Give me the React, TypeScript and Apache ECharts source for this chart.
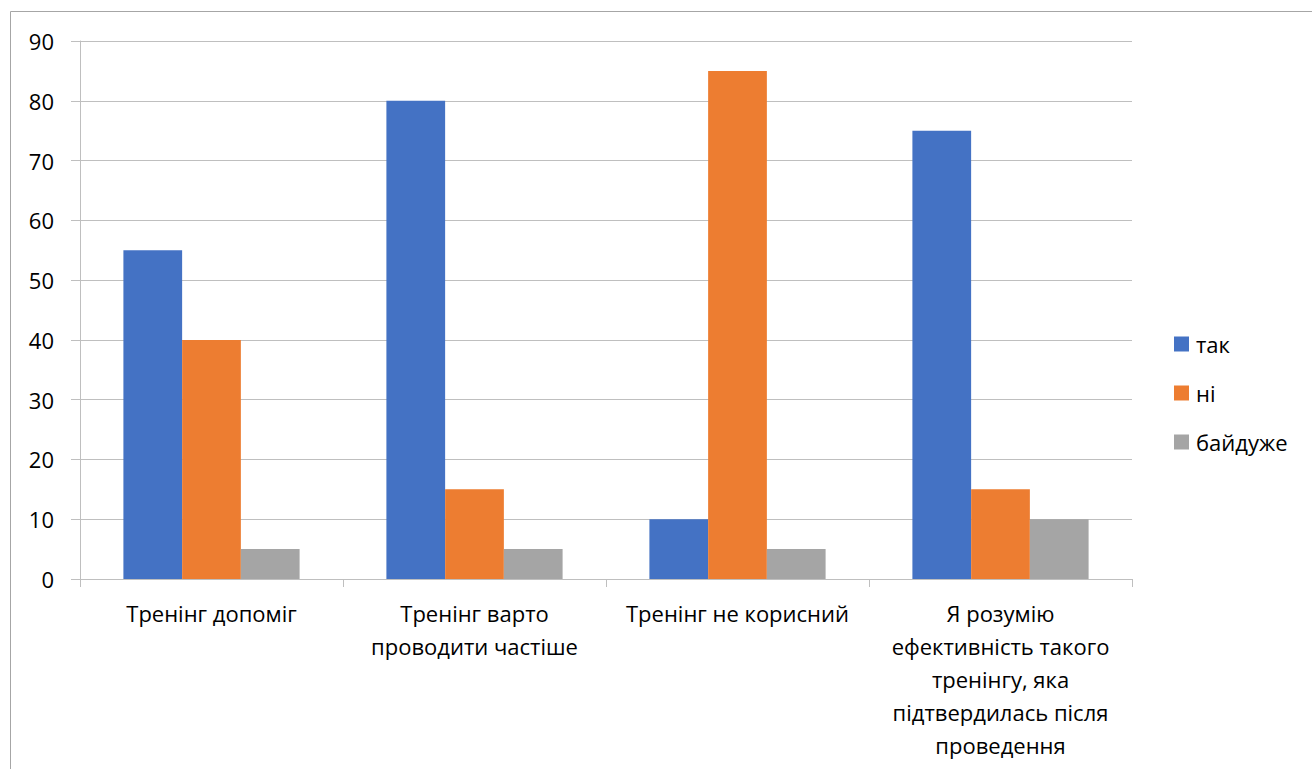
import React, { useEffect, useRef } from "react";
import * as echarts from "echarts";

const categories = [
  "Тренінг допоміг",
  "Тренінг варто\nпроводити частіше",
  "Тренінг не корисний",
  "Я розумію\nефективність такого\nтренінгу, яка\nпідтвердилась після\nпроведення",
];
const seriesNames = ["так", "ні", "байдуже"];
const yesValues = [55, 80, 10, 75];
const noValues = [40, 15, 85, 15];
const indifferentValues = [5, 5, 5, 10];
const colors = ["#4472C4", "#ED7D31", "#A5A5A5"];

const FONT = "'Open Sans', 'Noto Sans', sans-serif";

export default function App() {
  const ref = useRef<HTMLDivElement>(null);
  useEffect(() => {
    if (!ref.current) return;
    const chart = echarts.init(ref.current, undefined, { renderer: "svg" });
    const values = [yesValues, noValues, indifferentValues];
    chart.setOption({
      animation: false,
      backgroundColor: "#ffffff",
      textStyle: { fontFamily: FONT },
      graphic: [
        {
          type: "rect",
          shape: { x: 10.5, y: 11.5, width: 1500, height: 1000 },
          style: { fill: "none", stroke: "#a6a6a6", lineWidth: 1 },
          silent: true,
          z: -1,
        },
      ],
      grid: { left: 80, right: 180, top: 41, bottom: 190, containLabel: false },
      legend: {
        orient: "vertical",
        left: 1169,
        top: 328,
        itemWidth: 15,
        itemHeight: 15,
        itemGap: 27,
        icon: "rect",
        data: seriesNames,
        textStyle: { fontFamily: FONT, fontSize: 22, color: "#000", lineHeight: 20, padding: [0, 0, 0, 2] },
      },
      xAxis: {
        type: "category",
        data: categories,
        axisLine: { show: true, lineStyle: { color: "#bfbfbf", width: 1 } },
        axisTick: { show: true, length: 8, interval: 0, lineStyle: { color: "#bfbfbf" } },
        axisLabel: {
          interval: 0,
          fontFamily: FONT,
          fontSize: 22,
          color: "#000",
          lineHeight: 33,
          margin: 17,
          align: "center",
        },
      },
      yAxis: {
        type: "value",
        min: 0,
        max: 90,
        interval: 10,
        axisLine: { show: true, lineStyle: { color: "#bfbfbf", width: 1 } },
        axisTick: { show: true, length: 9, lineStyle: { color: "#bfbfbf" } },
        splitLine: { show: true, lineStyle: { color: "#bfbfbf", width: 1 } },
        axisLabel: { fontFamily: FONT, fontSize: 22, color: "#000", margin: 26 },
      },
      series: seriesNames.map((name, i) => ({
        name,
        type: "bar",
        data: values[i],
        barGap: "0%",
        barCategoryGap: "33%",
        itemStyle: { color: colors[i] },
      })),
    });
    return () => chart.dispose();
  }, []);
  return (
    <div
      ref={ref}
      style={{ position: "fixed", left: 0, top: 0, width: 1312, height: 769 }}
    />
  );
}
